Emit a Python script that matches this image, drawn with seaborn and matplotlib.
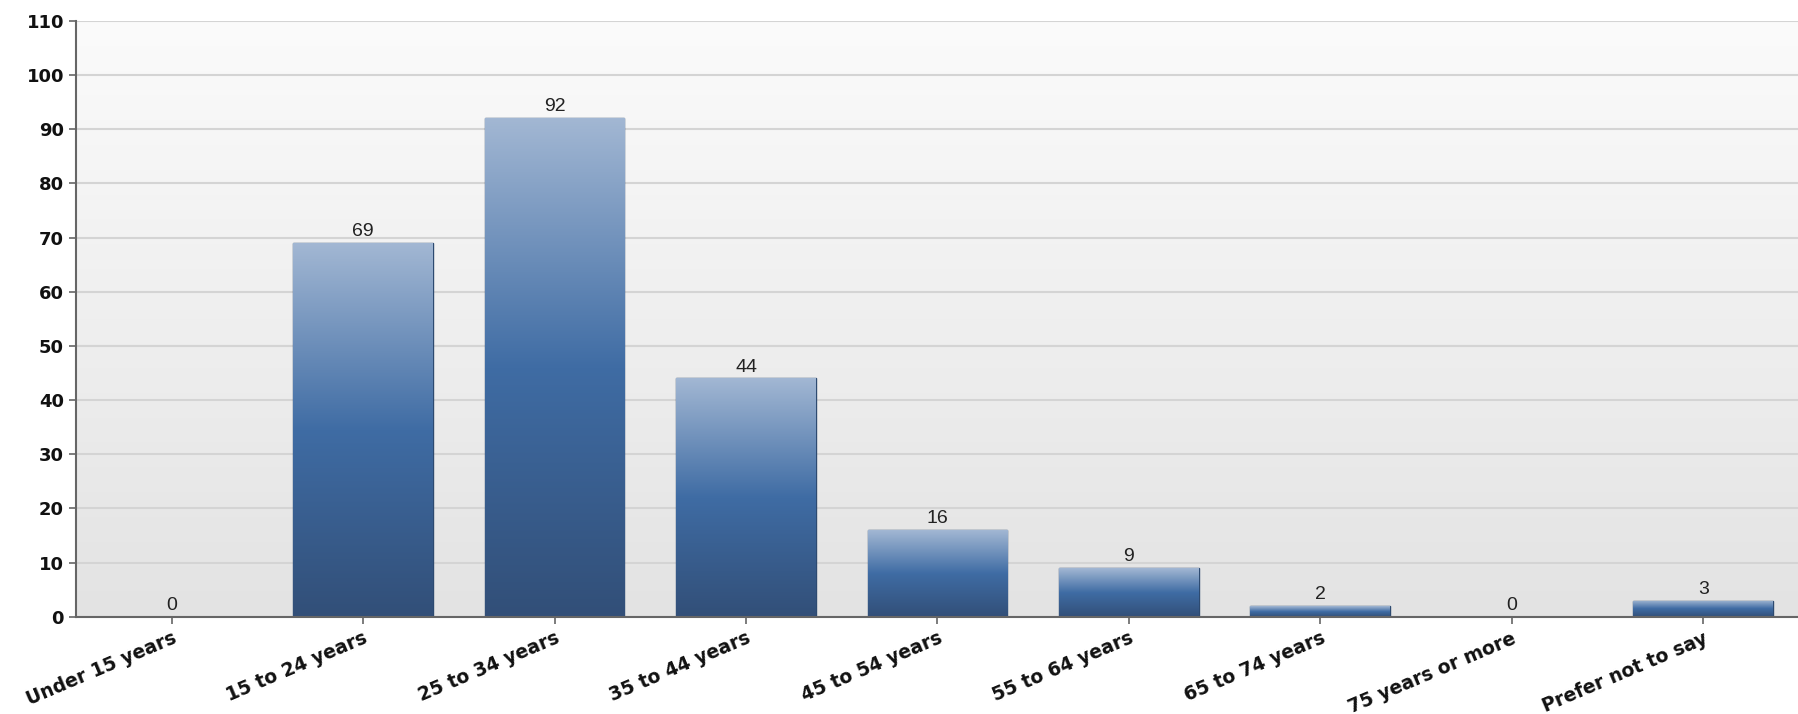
import numpy as np
import pandas as pd
import matplotlib
matplotlib.use('Agg')
import matplotlib.pyplot as plt
import seaborn as sns
from matplotlib.colors import LinearSegmentedColormap

# Data
categories = ['Under 15 years', '15 to 24 years', '25 to 34 years', '35 to 44 years',
              '45 to 54 years', '55 to 64 years', '65 to 74 years', '75 years or more',
              'Prefer not to say']
counts = [0, 69, 92, 44, 16, 9, 2, 0, 3]
y_ticks = list(range(0, 111, 10))

df = pd.DataFrame({'age': categories, 'count': counts})

sns.set_style('white')
plt.rcParams['font.family'] = ['Liberation Sans', 'DejaVu Sans']

fig = plt.figure(figsize=(17.99, 7.14), dpi=100)
ax = fig.add_axes([0.0422, 0.136, 0.9578, 0.835])

sns.barplot(data=df, x='age', y='count', color='#3d6aa1', width=0.73,
            edgecolor='#2d4a70', linewidth=1, ax=ax, zorder=2)

# background gradient of the plot area
bg_cmap = LinearSegmentedColormap.from_list('bg', ['#e3e3e3', '#fbfbfb'])
ax.imshow(np.linspace(0, 1, 256).reshape(-1, 1), cmap=bg_cmap, origin='lower',
          extent=[0, 1, 0, 1], transform=ax.transAxes, aspect='auto', zorder=0)

# vertical gradient inside each bar
bar_cmap = LinearSegmentedColormap.from_list('bar', ['#324f78', '#3f6ca4', '#a2b7d3'])
for patch in ax.patches:
    h = patch.get_height()
    if h <= 0:
        continue
    x0, w = patch.get_x(), patch.get_width()
    im = ax.imshow(np.linspace(0, 1, 256).reshape(-1, 1), cmap=bar_cmap, origin='lower',
                   extent=[x0, x0 + w, 0, h], aspect='auto', zorder=2.5)
    im.set_clip_path(patch)

ax.bar_label(ax.containers[0], padding=2, fontsize=14, color='#222222')

ax.set_xlim(-0.5, len(categories) - 0.5)
ax.set_ylim(0, 110)
ax.set_yticks(y_ticks)
ax.yaxis.grid(True, color='#d4d4d4', linewidth=1.5, zorder=1)
ax.set_axisbelow(True)

ax.set_xlabel('')
ax.set_ylabel('')
for side in ['top', 'right']:
    ax.spines[side].set_visible(False)
for side in ['left', 'bottom']:
    ax.spines[side].set_color('#666666')
    ax.spines[side].set_linewidth(1.5)

ax.tick_params(axis='both', direction='out', length=5, width=1.2, color='#666666',
               left=True, bottom=True)
plt.setp(ax.get_yticklabels(), fontsize=13, fontweight='bold', color='#111111',
         family='DejaVu Sans')
plt.setp(ax.get_xticklabels(), fontsize=13.5, fontweight='bold', color='#111111',
         family='DejaVu Sans', rotation=23, ha='right', rotation_mode='anchor')

plt.savefig('out.png', dpi=100)
plt.close()
